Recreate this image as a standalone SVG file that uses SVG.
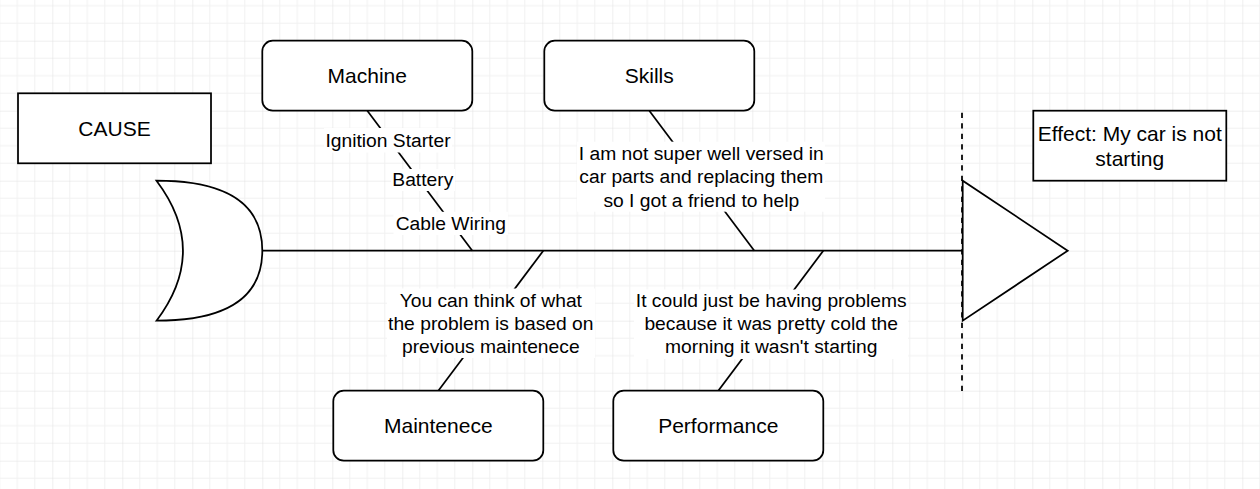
<svg xmlns="http://www.w3.org/2000/svg" width="1260" height="489" viewBox="0 0 1260 489">
<style>
.box{fill:#fff;stroke:#000;stroke-width:1.75}
.ln{fill:none;stroke:#000;stroke-width:1.75}
.t{font-family:"Liberation Sans",Arial,sans-serif;font-size:21px;fill:#000;text-anchor:middle}
.el{font-family:"Liberation Sans",Arial,sans-serif;font-size:19.25px;fill:#000;text-anchor:middle}
.lbg{fill:#fff;stroke:none}
</style>
<defs>
<pattern id="grid" patternUnits="userSpaceOnUse" x="52.3" y="40.7" width="70" height="70">
<path d="M17.5 0V70M35 0V70M52.5 0V70M0 17.5H70M0 35H70M0 52.5H70" stroke="#f1f1f1" stroke-width="1" fill="none"/>
<path d="M0 0V70M0 0H70" stroke="#e0e0e0" stroke-width="1" fill="none"/>
</pattern>
</defs>
<rect width="1260" height="489" fill="#fff"/>
<rect width="1260" height="489" fill="url(#grid)"/>

<g id="connectors">
<path class="ln" d="M262.3 250.7H962.3"/>
<path class="ln" d="M367.3 110.7L472.3 250.7"/>
<path class="ln" d="M649.3 110.7L754.3 250.7"/>
<path class="ln" d="M543.3 250.7L438.3 390.7"/>
<path class="ln" d="M823.3 250.7L718.3 390.7"/>
<path class="ln" d="M962 112.7V391" stroke-dasharray="5.25 5.25"/>
</g>

<g id="edge-labels">
<rect class="lbg" x="324" y="128" width="128" height="24.5"/>
<text class="el" x="388" y="146.7">Ignition Starter</text>
<rect class="lbg" x="391" y="169" width="64" height="22"/>
<text class="el" x="422.8" y="185.5">Battery</text>
<rect class="lbg" x="393.5" y="211.8" width="114.5" height="23.2"/>
<text class="el" x="450.8" y="230">Cable Wiring</text>
<rect class="lbg" x="577" y="141.7" width="248" height="70"/>
<text class="el" x="701.3"><tspan x="701.3" y="160.3">I am not super well versed in</tspan><tspan x="701.3" y="183.4">car parts and replacing them</tspan><tspan x="701.3" y="206.5">so I got a friend to help</tspan></text>
<rect class="lbg" x="387" y="288.5" width="208" height="69.5"/>
<text class="el" x="490.8"><tspan x="490.8" y="307.2">You can think of what</tspan><tspan x="490.8" y="330.3">the problem is based on</tspan><tspan x="490.8" y="353.4">previous maintenece</tspan></text>
<rect class="lbg" x="634" y="289.5" width="274" height="69.5"/>
<text class="el" x="771.2"><tspan x="771.2" y="307.2">It could just be having problems</tspan><tspan x="771.2" y="330.3">because it was pretty cold the</tspan><tspan x="771.2" y="353.4">morning it wasn't starting</tspan></text>
</g>

<g id="tail">
<path class="box" d="M156.5 180.7Q262.3 180.7 262.3 250.7Q262.3 320.7 156.5 320.7Q209.4 250.7 156.5 180.7Z"/>
</g>

<g id="head">
<path class="box" d="M962.7 180.7L962.7 320.7L1067.7 250.7Z"/>
</g>

<g id="cause">
<rect class="box" x="18" y="93.3" width="193" height="70"/>
<text class="t" x="114.5" y="135.6">CAUSE</text>
</g>

<g id="machine">
<rect class="box" x="262.3" y="40.7" width="210" height="70" rx="10.5"/>
<text class="t" x="367.3" y="83">Machine</text>
</g>

<g id="skills">
<rect class="box" x="544.3" y="40.7" width="210" height="70" rx="10.5"/>
<text class="t" x="649.3" y="83">Skills</text>
</g>

<g id="maintenece">
<rect class="box" x="333.3" y="390.7" width="210" height="70" rx="10.5"/>
<text class="t" x="438.3" y="433">Maintenece</text>
</g>

<g id="performance">
<rect class="box" x="613.3" y="390.7" width="210" height="70" rx="10.5"/>
<text class="t" x="718.3" y="433">Performance</text>
</g>

<g id="effect">
<rect class="box" x="1033.3" y="110.7" width="193" height="70"/>
<text class="t" x="1129.8"><tspan x="1129.8" y="140.8">Effect: My car is not</tspan><tspan x="1129.8" y="166">starting</tspan></text>
</g>
</svg>
